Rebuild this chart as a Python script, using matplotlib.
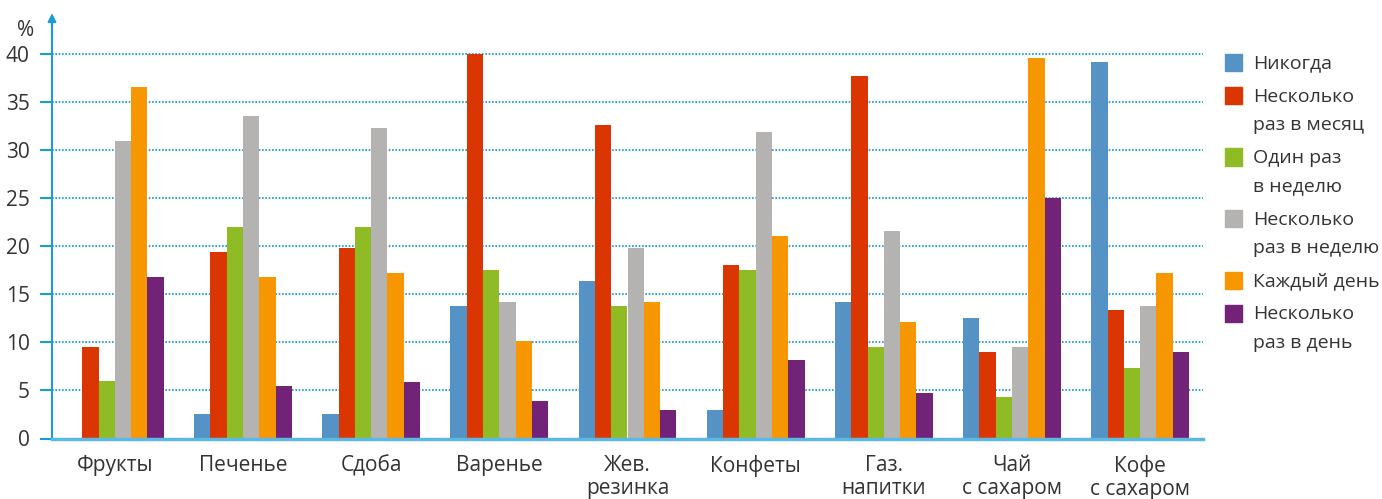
import matplotlib
matplotlib.use("Agg")
import matplotlib.pyplot as plt
import numpy as np

categories = ["Фрукты", "Печенье", "Сдоба", "Варенье", "Жев.\nрезинка",
              "Конфеты", "Газ.\nнапитки", "Чай\nс сахаром", "Кофе\nс сахаром"]
series_names = ["Никогда", "Несколько\nраз в месяц", "Один раз\nв неделю",
                "Несколько\nраз в неделю", "Каждый день", "Несколько\nраз в день"]
colors = ["#5592c6", "#db3502", "#8fbc24", "#b4b3b2", "#f69600", "#722277"]

never = [0, 2.5, 2.5, 13.8, 16.4, 2.95, 14.2, 12.5, 39.2]
per_month = [9.5, 19.4, 19.8, 40.0, 32.7, 18.05, 37.8, 9.0, 13.4]
once_week = [6.0, 22.0, 22.0, 17.6, 13.8, 17.6, 9.5, 4.3, 7.3]
per_week = [31.0, 33.6, 32.3, 14.2, 19.8, 31.9, 21.6, 9.5, 13.8]
every_day = [36.6, 16.8, 17.2, 10.2, 14.2, 21.1, 12.1, 39.6, 17.2]
per_day = [16.8, 5.5, 5.9, 3.9, 2.95, 8.2, 4.7, 25.0, 9.0]
series = [never, per_month, once_week, per_week, every_day, per_day]

yticks = [0, 5, 10, 15, 20, 25, 30, 35, 40]

plt.rcParams["font.family"] = ["Open Sans", "DejaVu Sans"]
text_color = "#333333"
axis_blue = "#1a9ad6"

fig = plt.figure(figsize=(13.82, 4.99), dpi=100)
ax = fig.add_axes([52 / 1382, 60.5 / 499, (1203 - 52) / 1382, (438.5 - 16) / 499])

x = np.arange(len(categories))
width = 0.127
for i, (vals, col) in enumerate(zip(series, colors)):
    offset = (i - (len(series) - 1) / 2) * width
    ax.bar(x + offset, vals, width, color=col, zorder=2, linewidth=0)

ax.set_xlim(-0.49, len(categories) - 0.51)
ax.set_ylim(0, 44)
ax.set_yticks(yticks)
ax.set_yticklabels([str(v) for v in yticks], fontsize=15, color=text_color)
ax.set_xticks(x)
ax.set_xticklabels(categories, fontsize=15, color=text_color, linespacing=1.1)
ax.tick_params(axis="x", length=0, pad=12)
ax.tick_params(axis="y", length=9, width=1.5, color=axis_blue, pad=7, direction="out")

for v in yticks[1:]:
    ax.axhline(v, color="#0a96d8", lw=1.2, ls=(0, (1, 1)), zorder=1)

for side in ["top", "right", "bottom"]:
    ax.spines[side].set_visible(False)
ax.spines["left"].set_color(axis_blue)
ax.spines["left"].set_linewidth(1.5)
ax.spines["left"].set_bounds(0, 43)
ax.axhline(0, color="#5bb8e3", lw=2.5, zorder=3, clip_on=False)

ytrans = ax.get_yaxis_transform()
ax.annotate("", xy=(0, 44.3), xytext=(0, 42.0), xycoords=ytrans, textcoords=ytrans,
            arrowprops=dict(arrowstyle="-|>", color=axis_blue, lw=1.5, mutation_scale=12,
                            shrinkA=0, shrinkB=0),
            annotation_clip=False)
ax.text(-18 / 1151, 41.9, "%", transform=ytrans, fontsize=15, color=text_color,
        ha="right", va="baseline")

# legend drawn by hand so multi-line labels sit like the original
y = 54
for name, col in zip(series_names, colors):
    fig.patches.append(plt.Rectangle((1225 / 1382, 1 - (y + 17) / 499), 17 / 1382, 17 / 499,
                                     transform=fig.transFigure, color=col))
    lines = name.split("\n")
    for j, line in enumerate(lines):
        fig.text(1253 / 1382, 1 - (y + 14.5 + j * 28.5) / 499, line, fontsize=14,
                 color=text_color, ha="left", va="baseline")
    y += len(lines) * 28.5 + 4.5

fig.savefig("out.png", dpi=100)
